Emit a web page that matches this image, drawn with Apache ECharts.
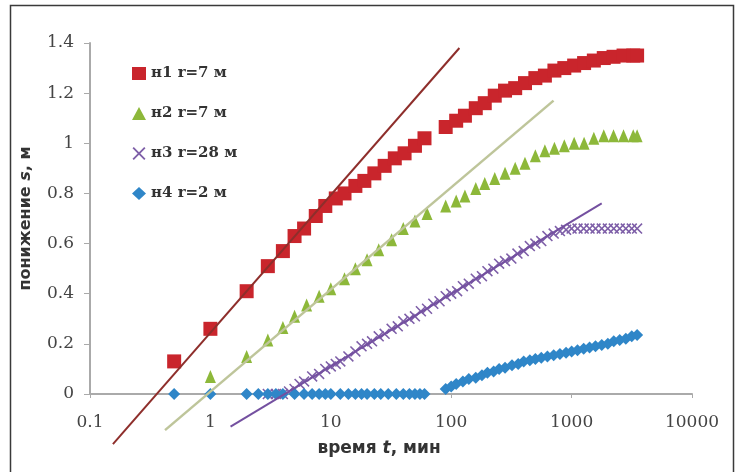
<!DOCTYPE html>
<html>
<head>
<meta charset="utf-8">
<script src="https://cdn.jsdelivr.net/npm/echarts@6/dist/echarts.min.js"></script>
<style>
html,body{margin:0;padding:0;background:#fff;}
#c{width:738px;height:472px;}
</style>
</head>
<body>
<div id="c"></div>
<script>
// ---- data ----
const xTicks = [0.1, 1, 10, 100, 1000, 10000];
const yTicks = [0, 0.2, 0.4, 0.6, 0.8, 1, 1.2, 1.4];
const seriesNames = ['н1 r=7 м', 'н2 r=7 м', 'н3 r=28 м', 'н4 r=2 м'];

const t1 = [0.5, 1, 2, 3, 4, 5, 6, 7.5, 9, 11, 13, 16, 19, 23, 28, 34, 41, 50, 60, 90, 110, 130, 160, 190, 230, 280, 340, 410, 500, 600, 720, 870, 1050, 1270, 1530, 1850, 2230, 2700, 3250, 3500];
const s1 = [0.13, 0.26, 0.41, 0.51, 0.57, 0.63, 0.66, 0.71, 0.75, 0.78, 0.80, 0.83, 0.85, 0.88, 0.91, 0.94, 0.96, 0.99, 1.02, 1.065, 1.09, 1.11, 1.14, 1.16, 1.19, 1.21, 1.22, 1.24, 1.26, 1.27, 1.29, 1.30, 1.31, 1.32, 1.33, 1.34, 1.345, 1.35, 1.35, 1.35];

const t2 = [1, 2, 3, 4, 5, 6.3, 8, 10, 13, 16, 20, 25, 32, 40, 50, 63, 90, 110, 130, 160, 190, 230, 280, 340, 410, 500, 600, 720, 870, 1050, 1270, 1530, 1850, 2230, 2700, 3250, 3500];
const s2 = [0.07, 0.15, 0.215, 0.265, 0.31, 0.355, 0.39, 0.42, 0.46, 0.50, 0.535, 0.575, 0.615, 0.66, 0.69, 0.72, 0.75, 0.77, 0.79, 0.82, 0.84, 0.86, 0.88, 0.90, 0.92, 0.95, 0.97, 0.98, 0.99, 1.0, 1.0, 1.02, 1.03, 1.03, 1.03, 1.03, 1.03];

const t3 = [3, 3.5, 4, 4.5, 5, 5.5, 6, 7, 8, 9, 10, 11, 12, 14, 16, 18, 20, 22, 25, 28, 32, 36, 40, 45, 50, 56, 63, 71, 80, 90, 100, 112, 125, 140, 160, 180, 200, 224, 250, 280, 316, 355, 400, 450, 500, 560, 630, 710, 800, 900, 1000, 1120, 1260, 1410, 1580, 1780, 2000, 2240, 2510, 2820, 3160, 3500];
const s3 = [0, 0, 0, 0.01, 0.02, 0.04, 0.05, 0.07, 0.08, 0.10, 0.11, 0.12, 0.13, 0.15, 0.17, 0.19, 0.20, 0.21, 0.23, 0.24, 0.26, 0.27, 0.29, 0.30, 0.31, 0.33, 0.34, 0.36, 0.37, 0.39, 0.40, 0.41, 0.43, 0.44, 0.46, 0.47, 0.49, 0.50, 0.52, 0.53, 0.54, 0.56, 0.57, 0.59, 0.60, 0.61, 0.63, 0.64, 0.65, 0.655, 0.66, 0.66, 0.66, 0.66, 0.66, 0.66, 0.66, 0.66, 0.66, 0.66, 0.66, 0.66];

const t4 = [0.5, 1, 2, 2.5, 3, 3.5, 4, 5, 6, 7, 8, 9, 10, 12, 14, 16, 18, 20, 23, 26, 30, 35, 40, 45, 50, 55, 60, 90, 100, 110, 125, 140, 160, 180, 200, 225, 250, 280, 320, 360, 400, 450, 500, 560, 630, 710, 800, 900, 1000, 1120, 1260, 1410, 1580, 1780, 2000, 2240, 2510, 2820, 3160, 3500];
const s4 = [0, 0, 0, 0, 0, 0, 0, 0, 0, 0, 0, 0, 0, 0, 0, 0, 0, 0, 0, 0, 0, 0, 0, 0, 0, 0, 0, 0.02, 0.03, 0.04, 0.05, 0.06, 0.065, 0.075, 0.085, 0.09, 0.10, 0.105, 0.115, 0.12, 0.13, 0.135, 0.14, 0.145, 0.15, 0.155, 0.16, 0.165, 0.17, 0.175, 0.18, 0.185, 0.19, 0.195, 0.20, 0.21, 0.215, 0.22, 0.23, 0.235];

// straight-line fits (end points)
const fit1 = [[0.155, -0.2], [117, 1.38]];
const fit2 = [[0.42, -0.144], [708, 1.17]];
const fit3 = [[1.47, -0.13], [1778, 0.76]];

const colors = ['#C9252C', '#8DB83A', '#7E5FA8', '#2F86C8'];
const fitColors = ['#8E2E2B', '#BEC59A', '#7450A0'];

function pairs(t, s) { return t.map((v, i) => [v, s[i]]); }

const xPath = 'path://M0,1 L1,0 L5,4 L9,0 L10,1 L6,5 L10,9 L9,10 L5,6 L1,10 L0,9 L4,5 Z';

const chart = echarts.init(document.getElementById('c'), null, {renderer: 'canvas'});
chart.setOption({
  backgroundColor: '#fff',
  animation: false,
  graphic: [{
    type: 'rect', shape: {x: 10.5, y: 5.5, width: 723, height: 480},
    style: {fill: 'none', stroke: '#3a3a3a', lineWidth: 1.5}, silent: true
  }],
  grid: {left: 90, right: 46, top: 43, bottom: 78},
  legend: {
    data: seriesNames,
    orient: 'vertical', left: 127, top: 61,
    itemGap: 25, itemWidth: 14, itemHeight: 13,
    textStyle: {fontFamily: 'DejaVu Serif', fontSize: 15, fontWeight: 'bold', color: '#333'}
  },
  xAxis: {
    type: 'log', logBase: 10, min: xTicks[0], max: xTicks[xTicks.length - 1],
    name: '{a|время }{i|t}{a|, мин}', nameLocation: 'middle', nameGap: 46,
    nameTextStyle: {padding: [0, 24, 0, 0], rich: {
      a: {fontFamily: 'DejaVu Sans', fontWeight: 'bold', fontSize: 17, color: '#333'},
      i: {fontFamily: 'DejaVu Sans', fontWeight: 'bold', fontStyle: 'italic', fontSize: 17, color: '#333'}
    }},
    axisLine: {lineStyle: {color: '#AAAAAA', width: 2}},
    axisTick: {show: true, length: 4, lineStyle: {color: '#AAAAAA'}},
    minorTick: {show: false},
    splitLine: {show: false},
    axisLabel: {
      margin: 20, fontFamily: 'DejaVu Serif', fontSize: 17, color: '#444',
      formatter: v => (v >= 1 ? String(Math.round(v)) : String(+v.toFixed(1)))
    }
  },
  yAxis: {
    type: 'value', min: yTicks[0], max: yTicks[yTicks.length - 1], interval: 0.2,
    name: '{a|понижение }{i|s}{a|, м}', nameLocation: 'middle', nameGap: 56,
    nameTextStyle: {rich: {
      a: {fontFamily: 'DejaVu Sans', fontWeight: 'bold', fontSize: 16, color: '#333'},
      i: {fontFamily: 'DejaVu Sans', fontWeight: 'bold', fontStyle: 'italic', fontSize: 16, color: '#333'}
    }},
    axisLine: {show: true, lineStyle: {color: '#AAAAAA', width: 2}},
    axisTick: {show: true, length: 6, lineStyle: {color: '#AAAAAA'}},
    splitLine: {show: false},
    axisLabel: {
      margin: 16, fontFamily: 'DejaVu Serif', fontSize: 17, color: '#444',
      formatter: v => String(+v.toFixed(1))
    }
  },
  series: [
    {name: seriesNames[0], type: 'scatter', symbol: 'rect', symbolSize: 14,
     itemStyle: {color: colors[0], opacity: 1}, data: pairs(t1, s1), z: 3},
    {name: seriesNames[1], type: 'scatter', symbol: 'triangle', symbolSize: [11, 13],
     itemStyle: {color: colors[1], opacity: 1}, data: pairs(t2, s2), z: 3},
    {name: seriesNames[2], type: 'scatter', symbol: xPath, symbolSize: 11,
     itemStyle: {color: colors[2], opacity: 1}, data: pairs(t3, s3), z: 3},
    {name: seriesNames[3], type: 'scatter', symbol: 'diamond', symbolSize: 12,
     itemStyle: {color: colors[3], opacity: 1}, data: pairs(t4, s4), z: 3},
    {name: 'fit1', type: 'line', data: fit1, symbol: 'none', clip: false, silent: true,
     lineStyle: {color: fitColors[0], width: 2}, z: 4},
    {name: 'fit2', type: 'line', data: fit2, symbol: 'none', clip: false, silent: true,
     lineStyle: {color: fitColors[1], width: 2.5}, z: 4},
    {name: 'fit3', type: 'line', data: fit3, symbol: 'none', clip: false, silent: true,
     lineStyle: {color: fitColors[2], width: 2}, z: 4}
  ]
});
</script>
</body>
</html>
